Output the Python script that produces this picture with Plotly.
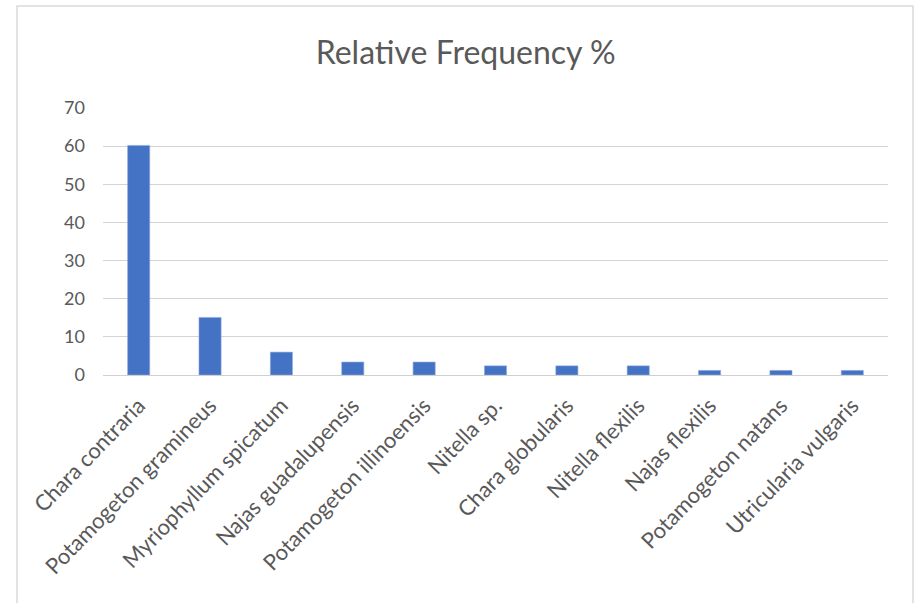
import plotly.graph_objects as go

species = ["Chara contraria", "Potamogeton gramineus", "Myriophyllum spicatum",
           "Najas guadalupensis", "Potamogeton illinoensis", "Nitella sp.",
           "Chara globularis", "Nitella flexilis", "Najas flexilis",
           "Potamogeton natans", "Utricularia vulgaris"]
rel_freq = [60.2, 15.1, 6.0, 3.4, 3.4, 2.4, 2.4, 2.4, 1.2, 1.2, 1.2]
y_ticks = [0, 10, 20, 30, 40, 50, 60, 70]

W, H = 918, 603
fig = go.Figure(go.Bar(x=species, y=rel_freq, marker_color="#4472C4",
                       marker_line_color="#8FAADC", marker_line_width=0.6))

fig.update_layout(
    width=W, height=H,
    margin=dict(l=103, r=30, t=108, b=228),
    paper_bgcolor="white", plot_bgcolor="white",
    bargap=0.69,
    showlegend=False,
    font=dict(family="Lato", color="#595959"),
    title=dict(text="Relative Frequency %", x=0.462, xref="paper", xanchor="center",
               y=1 - 53 / H, yref="container", yanchor="middle",
               font=dict(family="Lato", size=32, color="#595959")),
    shapes=[dict(type="rect", xref="paper", yref="paper",
                 x0=(17 - 103) / 785, x1=(913 - 103) / 785,
                 y0=-(610 - 375) / 267, y1=(375 - 6) / 267,
                 line=dict(color="#d9d9d9", width=1.5), layer="below")],
)
fig.update_xaxes(tickangle=-46, tickfont=dict(size=22, color="#595959"),
                 showline=True, linecolor="#d0d0d0", ticks="", ticklabelstandoff=8,
                 showgrid=False)
fig.update_yaxes(range=[0, 70], tickvals=y_ticks, tickfont=dict(size=18, color="#595959"),
                 showgrid=True, gridcolor="#d4d4d4", gridwidth=1, zeroline=False,
                 showline=False, ticks="", ticklabelstandoff=17)

fig.write_html("out.html")
